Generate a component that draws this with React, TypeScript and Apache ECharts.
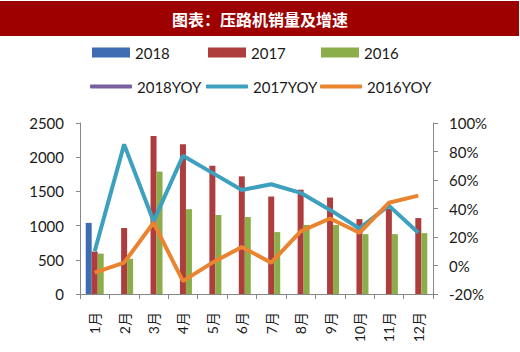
import React, { useEffect, useRef } from "react";
import * as echarts from "echarts";

const months = ["1月", "2月", "3月", "4月", "5月", "6月", "7月", "8月", "9月", "10月", "11月", "12月"];
const sales2018: (number | string)[] = [1040, "-", "-", "-", "-", "-", "-", "-", "-", "-", "-", "-"];
const sales2017 = [620, 965, 2310, 2190, 1875, 1720, 1425, 1525, 1410, 1095, 1250, 1110];
const sales2016 = [590, 515, 1790, 1240, 1155, 1125, 905, 1010, 1010, 875, 875, 890];
const yoy2018: (number | string)[] = ["-", "-", "-", "-", "-", "-", "-", "-", "-", "-", "-", "-"];
const yoy2017 = [10, 85, 31, 77, 65, 53, 57, 51, 39, 26, 42, 23];
const yoy2016 = [-5, 2, 30, -11, 2, 13, 2, 24, 33, 23, 44, 49];
const leftTicks = { min: 0, max: 2500, interval: 500 };
const rightTicks = { min: -20, max: 100, interval: 20 };

const title = "图表：压路机销量及增速";
const FONT = "Lato, 'Noto Sans CJK SC', sans-serif";

const C_BLUE = "#3F6DB3";
const C_RED = "#AE3E3D";
const C_GREEN = "#8BAD4A";
const C_PURPLE = "#7B5E9E";
const C_TEAL = "#3CA0BE";
const C_ORANGE = "#EA8430";

export default function App() {
  const ref = useRef<HTMLDivElement>(null);
  useEffect(() => {
    document.body.style.margin = "0";
    if (!ref.current) return;
    const chart = echarts.init(ref.current, null, { renderer: "svg" });
    const legendText = { fontFamily: FONT, fontSize: 15, color: "#1a1a1a" };
    const barLegend = (name: string, left: number) => ({
      data: [name],
      left,
      top: 45,
      padding: 0,
      itemWidth: 38,
      itemHeight: 10,
      icon: "rect",
      itemGap: 0,
      textStyle: legendText,
      selectedMode: false,
    });
    const lineLegend = (name: string, left: number) => ({
      data: [name],
      left,
      top: 79,
      padding: 0,
      itemWidth: 42,
      itemHeight: 4,
      icon: "roundRect",
      itemGap: 0,
      textStyle: legendText,
      selectedMode: false,
    });
    const axisLine = { show: true, lineStyle: { color: "#888888", width: 1 } };
    chart.setOption({
      animation: false,
      backgroundColor: "#ffffff",
      graphic: [
        {
          type: "rect",
          shape: { x: 0, y: 1, width: 519, height: 35 },
          style: { fill: "#9E0000" },
          silent: true,
        },
        {
          type: "text",
          x: 260,
          y: 19,
          style: {
            text: title,
            fill: "#ffffff",
            font: "bold 16px 'Noto Sans CJK SC', sans-serif",
            textAlign: "center",
            textVerticalAlign: "middle",
          },
          silent: true,
        },
      ],
      legend: [
        barLegend("2018", 92),
        barLegend("2017", 208),
        barLegend("2016", 321),
        lineLegend("2018YOY", 90),
        lineLegend("2017YOY", 206),
        lineLegend("2016YOY", 320),
      ],
      grid: { left: 80, right: 87, top: 123, bottom: 58 },
      xAxis: {
        type: "category",
        data: months,
        boundaryGap: true,
        axisLine,
        axisTick: { show: true, length: 5, lineStyle: { color: "#888888" } },
        axisLabel: {
          rotate: 90,
          margin: 18,
          fontFamily: FONT,
          fontSize: 14,
          color: "#1a1a1a",
          interval: 0,
        },
      },
      yAxis: [
        {
          type: "value",
          ...leftTicks,
          position: "left",
          axisLine,
          axisTick: { show: true, length: 4, lineStyle: { color: "#888888" } },
          splitLine: { show: false },
          axisLabel: {
            margin: 16,
            fontFamily: FONT,
            fontSize: 15,
            color: "#1a1a1a",
            formatter: (v: number) => String(v),
          },
        },
        {
          type: "value",
          ...rightTicks,
          position: "right",
          axisLine,
          axisTick: { show: true, length: 5, lineStyle: { color: "#888888" } },
          splitLine: { show: false },
          axisLabel: {
            margin: 16,
            fontFamily: FONT,
            fontSize: 15,
            color: "#1a1a1a",
            formatter: (v: number) => `${v}%`,
          },
        },
      ],
      series: [
        { name: "2018", type: "bar", data: sales2018, barWidth: 6, barGap: "0%", color: C_BLUE },
        { name: "2017", type: "bar", data: sales2017, barWidth: 6, barGap: "0%", color: C_RED },
        { name: "2016", type: "bar", data: sales2016, barWidth: 6, barGap: "0%", color: C_GREEN },
        {
          name: "2018YOY", type: "line", yAxisIndex: 1, data: yoy2018, color: C_PURPLE,
          showSymbol: false, symbol: "none", lineStyle: { width: 4, color: C_PURPLE },
        },
        {
          name: "2017YOY", type: "line", yAxisIndex: 1, data: yoy2017, color: C_TEAL,
          showSymbol: false, symbol: "none", lineStyle: { width: 4, color: C_TEAL },
        },
        {
          name: "2016YOY", type: "line", yAxisIndex: 1, data: yoy2016, color: C_ORANGE,
          showSymbol: false, symbol: "none", lineStyle: { width: 4, color: C_ORANGE },
        },
      ],
    });
    return () => chart.dispose();
  }, []);
  return <div ref={ref} style={{ width: 520, height: 352 }} />;
}
